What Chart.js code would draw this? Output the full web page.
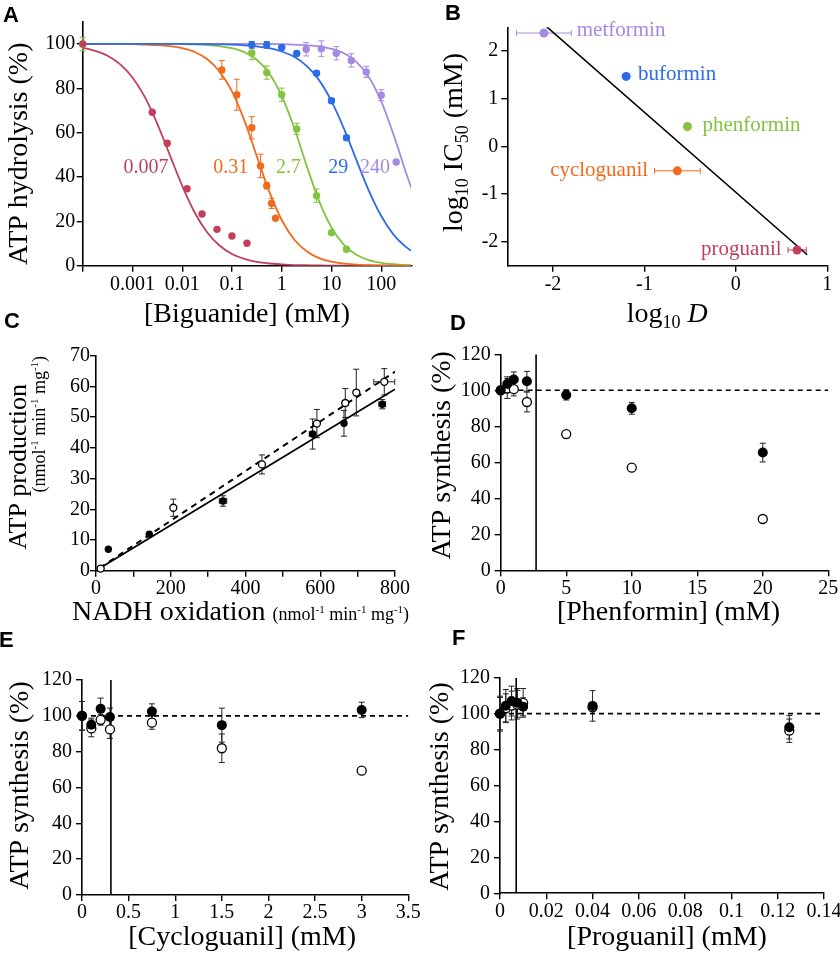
<!DOCTYPE html>
<html>
<head>
<meta charset="utf-8">
<script src="https://cdn.jsdelivr.net/npm/chart.js@4.4.1/dist/chart.umd.min.js"></script>
<style>
  body { margin: 0; background: #fff; }
  #fig { position: relative; width: 840px; height: 955px; overflow: hidden; background: #fff; }
  #fig canvas { position: absolute; }
  .tag { position: absolute; font: bold 22px 'Liberation Sans', Arial, sans-serif; line-height: 22px; color: #000; }
</style>
</head>
<body>
<div id="fig">
  <canvas id="chartA" width="420" height="330" style="left:0;top:0"></canvas>
  <canvas id="chartB" width="420" height="330" style="left:420px;top:0"></canvas>
  <canvas id="chartC" width="420" height="300" style="left:0;top:330px"></canvas>
  <canvas id="chartD" width="420" height="300" style="left:420px;top:330px"></canvas>
  <canvas id="chartE" width="420" height="305" style="left:0;top:650px"></canvas>
  <canvas id="chartF" width="420" height="305" style="left:420px;top:650px"></canvas>
  <div class="tag" style="left:3px;top:4px">A</div>
  <div class="tag" style="left:445px;top:2px">B</div>
  <div class="tag" style="left:4px;top:310px">C</div>
  <div class="tag" style="left:450px;top:312px">D</div>
  <div class="tag" style="left:-1px;top:629px">E</div>
  <div class="tag" style="left:452px;top:627px">F</div>
</div>
<script>
// Biguanide figure - six panels, one Chart.js canvas each

// ---- Panel A: ATP hydrolysis vs [biguanide] ----
const aTicks = [0.0001, 0.001, 0.01, 0.1, 1, 10, 100];
const aTickLabels = ['', '0.001', '0.01', '0.1', '1', '10', '100'];
const aYTicks = [0, 20, 40, 60, 80, 100];

const proX = [0.0001, 0.0025, 0.005, 0.0125, 0.025, 0.05, 0.1, 0.2];
const proY = [100, 69.2, 55.2, 34.7, 23.3, 16.4, 13.4, 10.1];
const cycX = [0.0625, 0.125, 0.25, 0.375, 0.5, 0.625, 0.75];
const cycY = [88.3, 77.1, 62.2, 45.0, 36.1, 28.1, 21.4];
const cycErr = [4.2, 7.0, 5.0, 5.3, 1.5, 2.3, 0];
const phenX = [0.0001, 0.25, 0.5, 1, 2, 5, 10, 20];
const phenY = [100, 95.9, 87.1, 77.1, 61.7, 31.6, 14.9, 7.4];
const phenErr = [3, 3, 3, 3, 2.5, 3, 0, 0];
const bufX = [0.25, 0.5, 1, 2, 5, 10, 20];
const bufY = [99.6, 99.6, 98.4, 95.7, 86.8, 74.4, 57.7];
const bufErr = [1.5, 1.5, 1, 1, 1, 1, 1];
const metX = [3.1, 6.25, 12.5, 25, 50, 100, 200];
const metY = [97.6, 97.9, 95.8, 92.6, 87.4, 76.9, 46.8];
const metErr = [3, 3.5, 3, 3, 2.5, 2.5, 0];

// fitted curves at quarter-decade steps
const fitX = [0.0001, 0.000178, 0.000316, 0.000562, 0.001, 0.00178, 0.00316, 0.00562, 0.01, 0.0178,
  0.0316, 0.0562, 0.1, 0.178, 0.316, 0.562, 1, 1.78, 3.16, 5.62, 10, 17.8, 31.6, 56.2, 100, 178, 316, 400];
const fitPro = [98.3, 96.9, 94.7, 90.9, 84.9, 76.0, 64.0, 50.0, 36.0, 24.0, 15.1, 9.1, 5.3, 3.1,
  1.7, 1.0, 0.6, 0.3, 0.2, 0.1, 0.06, 0, 0, 0, 0, 0, 0, 0];
const fitCyc = [100, 100, 100, 100, 99.9, 99.7, 99.5, 99.0, 98.1, 96.4, 93.2, 87.6, 78.6, 65.4,
  49.3, 33.4, 20.6, 11.8, 6.5, 3.4, 1.8, 0.9, 0.5, 0.2, 0.1, 0, 0, 0];
const fitPhen = [100, 100, 100, 100, 100, 100, 100, 99.9, 99.9, 99.8, 99.5, 99.0, 98.1, 96.3,
  92.9, 86.7, 76.6, 62.2, 45.2, 29.2, 17.2, 9.4, 4.9, 2.5, 1.3, 0.65, 0.3, 0.25];
const fitBuf = [100, 100, 100, 100, 100, 100, 100, 100, 100, 99.9, 99.9, 99.8, 99.7, 99.4,
  98.9, 98.1, 96.6, 94.2, 90.1, 83.7, 74.2, 61.8, 47.7, 33.9, 22.4, 13.9, 8.4, 6.8];
const fitMet = [100, 100, 100, 100, 100, 100, 100, 100, 100, 100, 100, 100, 100, 100,
  100, 100, 99.9, 99.7, 99.4, 98.9, 97.8, 95.8, 91.9, 85.1, 74.1, 58.9, 41.8, 35.2];

const ic50Labels = ['0.007', '0.31', '2.7', '29', '240'];
const ic50LabelX = [0.00066, 0.042, 0.77, 8.65, 37.5];
const ic50LabelY = 41.8;

// ---- Panel B: log IC50 vs log D ----
const bNames = ['metformin', 'buformin', 'phenformin', 'cycloguanil', 'proguanil'];
const bLogD = [-2.1, -1.2, -0.53, -0.64, 0.67];
const bLogIC50 = [2.38, 1.47, 0.42, -0.51, -2.17];
const bErrD = [0.3, 0, 0, 0.25, 0.1];
const bLabelX = [-1.74, -1.07, -0.365, -0.96, 0.5];
const bLabelY = [2.31, 1.39, 0.33, -0.61, -2.27];
const bLabelAlign = ['left', 'left', 'left', 'right', 'right'];
const bFitX = [-2.11, 0.78];
const bFitY = [2.58, -2.27];
const bXTicks = [-2, -1, 0, 1];
const bYTicks = [-2, -1, 0, 1, 2];

// ---- Panel C: ATP production vs NADH oxidation ----
const cFilledX = [33, 142.6, 339.8, 579.6, 663.5, 766];
const cFilledY = [7.0, 11.9, 22.7, 44.5, 48.0, 54.2];
const cFilledErrY = [0, 0, 1.7, 4.9, 4.2, 1.5];
const cFilledErrX = [0, 0, 10, 9, 0, 9];
const cOpenX = [12.5, 206.9, 444, 591, 667, 696.4, 771.3];
const cOpenY = [0.7, 20.5, 34.6, 47.9, 54.6, 58.0, 61.5];
const cOpenErrY = [0, 2.8, 3.1, 4.6, 4.7, 7.6, 4.3];
const cOpenErrX = [0, 0, 0, 0, 8, 0, 28];
const cSolidX = [10, 800], cSolidY = [0.8, 59.1];
const cDashX = [10, 800], cDashY = [0.9, 64.8];
const cXTicks = [0, 100, 200, 300, 400, 500, 600, 700, 800];
const cXLabels = ['0', '', '200', '', '400', '', '600', '', '800'];
const cYTicks = [0, 10, 20, 30, 40, 50, 60, 70];

// ---- Panels D-F: ATP synthesis ----
const synYTicks = [0, 20, 40, 60, 80, 100, 120];
const control = 100;

const dX = [0, 0.5, 1, 2, 5, 10, 20];
const dFilledY = [100, 103.5, 106, 105, 97.4, 90, 65.4];
const dFilledErr = [0, 4, 4.2, 5.5, 2.8, 3.3, 5.2];
const dOpenY = [100, 101, 100.6, 93.5, 75.7, 57, 28.5];
const dOpenErr = [0, 5.5, 3.7, 5.5, 0, 0, 0];
const dIC50 = 2.7;
const dXTicks = [0, 5, 10, 15, 20, 25];

const eX = [0, 0.1, 0.2, 0.3, 0.75, 1.5, 3];
const eFilledY = [100, 95, 103.9, 99.3, 102.4, 94.8, 103.3];
const eFilledErr = [8, 3.7, 6, 5, 4.3, 9.5, 4.3];
const eOpenY = [100, 93, 97.8, 92.4, 96.2, 81.9, 69.4];
const eOpenErr = [8, 4.7, 3, 5, 3.7, 8, 0];
const eIC50 = 0.31;
const eXTicks = [0, 0.5, 1, 1.5, 2, 2.5, 3, 3.5];
const eXLabels = ['0', '0.5', '1', '1.5', '2', '2.5', '3', '3.5'];

const fX = [0, 0.0025, 0.005, 0.0075, 0.01, 0.04, 0.125];
const fFilledY = [100, 104.4, 107, 106, 103.8, 104.3, 92.4];
const fFilledErr = [9.7, 9, 8.3, 8, 5, 8.5, 6.5];
const fOpenY = [100, 103, 104.5, 105, 106, 103.5, 90.5];
const fOpenErr = [9, 8, 8, 8, 8, 0, 6.5];
const fIC50 = 0.007;
const fXTicks = [0, 0.02, 0.04, 0.06, 0.08, 0.1, 0.12, 0.14];
const fXLabels = ['0', '0.02', '0.04', '0.06', '0.08', '0.1', '0.12', '0.14'];

// colours
const RED = '#c23f5b', ORANGE = '#f26a1b', GREEN = '#84c33f', BLUE = '#2d6be9', PURPLE = '#a48ae3';
const bColors = [PURPLE, BLUE, GREEN, ORANGE, RED];

const serif = "'Liberation Serif', 'Times New Roman', serif";
Chart.defaults.font.family = serif;
Chart.defaults.color = '#000';

// ---------- plugins ----------
const errorBars = {
  id: 'errorBars',
  beforeDatasetsDraw(chart) {
    const ctx = chart.ctx;
    const xs = chart.scales.x, ys = chart.scales.y;
    chart.data.datasets.forEach(ds => {
      if (!ds.errY && !ds.errX) return;
      ctx.save();
      ctx.strokeStyle = ds.barColor || '#000';
      ctx.lineWidth = 1;
      ds.data.forEach((p, j) => {
        const px = xs.getPixelForValue(p.x), py = ys.getPixelForValue(p.y);
        const ey = ds.errY ? ds.errY[j] : 0;
        const ex = ds.errX ? ds.errX[j] : 0;
        ctx.beginPath();
        if (ey) {
          const t = ys.getPixelForValue(p.y + ey), b = ys.getPixelForValue(p.y - ey);
          ctx.moveTo(px, t); ctx.lineTo(px, b);
          ctx.moveTo(px - 3, t); ctx.lineTo(px + 3, t);
          ctx.moveTo(px - 3, b); ctx.lineTo(px + 3, b);
        }
        if (ex) {
          const l = xs.getPixelForValue(p.x - ex), r = xs.getPixelForValue(p.x + ex);
          ctx.moveTo(l, py); ctx.lineTo(r, py);
          ctx.moveTo(l, py - 3); ctx.lineTo(l, py + 3);
          ctx.moveTo(r, py - 3); ctx.lineTo(r, py + 3);
        }
        ctx.stroke();
      });
      ctx.restore();
    });
  }
};

// axis titles with sub/superscripts and mixed sizes
const richTitles = {
  id: 'richTitles',
  afterDraw(chart, args, opts) {
    const ctx = chart.ctx, area = chart.chartArea;
    (opts.items || []).forEach(item => {
      ctx.save();
      let total = 0;
      item.parts.forEach(p => {
        ctx.font = (p.style || '') + ' ' + p.size + 'px ' + serif;
        p.w = ctx.measureText(p.t).width;
        total += p.w;
      });
      if (item.axis === 'x') {
        ctx.translate((area.left + area.right) / 2 + (item.shift || 0), area.bottom + item.offset);
      } else {
        ctx.translate(area.left - item.offset, (area.top + area.bottom) / 2 + (item.shift || 0));
        ctx.rotate(-Math.PI / 2);
      }
      ctx.fillStyle = '#000';
      ctx.textBaseline = 'alphabetic';
      ctx.textAlign = 'left';
      let x = -total / 2;
      item.parts.forEach(p => {
        ctx.font = (p.style || '') + ' ' + p.size + 'px ' + serif;
        ctx.fillText(p.t, x, p.dy || 0);
        x += p.w;
      });
      ctx.restore();
    });
  }
};

// coloured text placed in data coordinates
const noteText = {
  id: 'noteText',
  afterDatasetsDraw(chart, args, opts) {
    const ctx = chart.ctx;
    (opts.items || []).forEach(n => {
      ctx.save();
      ctx.font = n.size + 'px ' + serif;
      ctx.fillStyle = n.color;
      ctx.textAlign = n.align || 'left';
      ctx.textBaseline = 'alphabetic';
      ctx.fillText(n.text, chart.scales.x.getPixelForValue(n.x), chart.scales.y.getPixelForValue(n.y));
      ctx.restore();
    });
  }
};

// ---------- helpers ----------
function pts(xs, ys) {
  return xs.map((x, i) => ({ x: x, y: Array.isArray(ys) ? ys[i] : ys }));
}

function dots(xs, ys, o) {
  return {
    data: pts(xs, ys), showLine: false, clip: false,
    pointRadius: o.r, pointHoverRadius: o.r,
    pointBackgroundColor: o.fill, pointBorderColor: o.stroke || o.fill,
    pointBorderWidth: o.bw || 0,
    barColor: o.bar || o.stroke || o.fill,
    errY: o.errY, errX: o.errX
  };
}

function curve(xs, ys, color, w, dash, smooth) {
  return {
    data: pts(xs, ys), showLine: true, pointRadius: 0, pointHoverRadius: 0,
    borderColor: color, borderWidth: w, borderDash: dash || [],
    cubicInterpolationMode: smooth ? 'monotone' : 'default', fill: false
  };
}

function axis(o) {
  const horiz = o.pos === 'x';
  return {
    type: o.type || 'linear',
    min: o.min, max: o.max,
    border: { color: '#000', width: 1.6 },
    grid: { drawOnChartArea: false, drawTicks: true, tickLength: 6, color: '#000', lineWidth: 1.4 },
    ticks: {
      font: { family: serif, size: 20 }, color: '#000', padding: o.pad,
      autoSkip: false, maxRotation: 0, minRotation: 0,
      callback: (v, i) => (o.labels ? o.labels[i] : String(o.values[i]))
    },
    afterBuildTicks: s => { s.ticks = o.values.map(v => ({ value: v })); },
    afterFit: s => {
      if (horiz) { s.height = o.size; s.paddingLeft = 0; s.paddingRight = 0; }
      else { s.width = o.size; s.paddingTop = 0; s.paddingBottom = 0; }
    }
  };
}

function makeChart(id, cfg) {
  return new Chart(document.getElementById(id), {
    type: 'scatter',
    data: { datasets: cfg.datasets },
    options: {
      responsive: false, animation: false, devicePixelRatio: 1,
      layout: { padding: cfg.padding },
      plugins: {
        legend: { display: false }, tooltip: { enabled: false },
        richTitles: { items: cfg.titles }, noteText: { items: cfg.notes || [] }
      },
      scales: { x: cfg.x, y: cfg.y }
    },
    plugins: [errorBars, richTitles, noteText]
  });
}

const big = 28, small = 18, tiny = 11;
function simpleTitle(axisName, text, offset, shift, size) {
  return { axis: axisName, offset: offset, shift: shift, parts: [{ t: text, size: size || big }] };
}
const unitParts = [
  { t: '(nmol', size: small }, { t: '-1', size: tiny, dy: -7 },
  { t: ' min', size: small }, { t: '-1', size: tiny, dy: -7 },
  { t: ' mg', size: small }, { t: '-1', size: tiny, dy: -7 },
  { t: ')', size: small }
];

// ---------- Panel A ----------
makeChart('chartA', {
  padding: { left: 0, right: 8.8, top: 21.8, bottom: 0 },
  datasets: [
    dots(proX, proY, { r: 3.7, fill: RED }),
    dots(cycX, cycY, { r: 3.7, fill: ORANGE, errY: cycErr }),
    dots(phenX, phenY, { r: 3.7, fill: GREEN, errY: phenErr }),
    dots(bufX, bufY, { r: 3.7, fill: BLUE, errY: bufErr }),
    dots(metX, metY, { r: 3.7, fill: PURPLE, errY: metErr }),
    curve(fitX, fitBuf, BLUE, 1.8, null, true),
    curve(fitX, fitCyc, ORANGE, 1.8, null, true),
    curve(fitX, fitPhen, GREEN, 1.8, null, true),
    curve(fitX, fitMet, PURPLE, 1.8, null, true),
    curve(fitX, fitPro, RED, 1.8, null, true)
  ],
  x: axis({ pos: 'x', type: 'logarithmic', min: 0.0001, max: 400, values: aTicks, labels: aTickLabels, size: 64.3, pad: 1 }),
  y: axis({ pos: 'y', min: 0, max: 110, values: aYTicks, size: 82.7, pad: 1.5 }),
  titles: [
    simpleTitle('x', '[Biguanide] (mM)', 56, 0),
    simpleTitle('y', 'ATP hydrolysis (%)', 55.7, 10)
  ],
  notes: ic50Labels.map((t, i) => ({ text: t, x: ic50LabelX[i], y: ic50LabelY, size: 20,
    color: [RED, ORANGE, GREEN, BLUE, PURPLE][i] }))
});

// ---------- Panel B ----------
makeChart('chartB', {
  padding: { left: 17, right: 12.7, top: 27.3, bottom: 0 },
  datasets: bNames.map((n, i) => dots([bLogD[i]], [bLogIC50[i]],
    { r: 4.5, fill: bColors[i], errX: [bErrD[i]] })).concat([
    curve(bFitX, bFitY, '#000', 1.6)
  ]),
  x: axis({ pos: 'x', min: -2.5, max: 1, values: bXTicks, labels: bXTicks.map(String), size: 64.3, pad: 1 }),
  y: axis({ pos: 'y', min: -2.5, max: 2.5, values: bYTicks, labels: bYTicks.map(String), size: 70.3, pad: 3 }),
  titles: [
    { axis: 'x', offset: 56, shift: 0, parts: [
      { t: 'log', size: big }, { t: '10', size: small, dy: 6 }, { t: ' ', size: big },
      { t: 'D', size: big, style: 'italic' }] },
    { axis: 'y', offset: 45.6, shift: -4, parts: [
      { t: 'log', size: big }, { t: '10', size: small, dy: 6 }, { t: ' IC', size: big },
      { t: '50', size: small, dy: 6 }, { t: ' (mM)', size: big }] }
  ],
  notes: bNames.map((n, i) => ({ text: n, x: bLabelX[i], y: bLabelY[i], size: 21,
    color: bColors[i], align: bLabelAlign[i] }))
});

// ---------- Panel C ----------
makeChart('chartC', {
  padding: { left: 0, right: 25, top: 25.7, bottom: 0 },
  datasets: [
    dots(cFilledX, cFilledY, { r: 3.7, fill: '#000', errY: cFilledErrY, errX: cFilledErrX, bar: '#222' }),
    dots(cOpenX, cOpenY, { r: 3.5, fill: '#fff', stroke: '#000', bw: 1.3, errY: cOpenErrY, errX: cOpenErrX, bar: '#222' }),
    curve(cSolidX, cSolidY, '#000', 1.8),
    curve(cDashX, cDashY, '#000', 2, [6, 5])
  ],
  x: axis({ pos: 'x', min: 0, max: 800, values: cXTicks, labels: cXLabels, size: 59.3, pad: 0 }),
  y: axis({ pos: 'y', min: 0, max: 70, values: cYTicks, size: 96, pad: 0 }),
  titles: [
    { axis: 'x', offset: 49.3, shift: -5, parts: [{ t: 'NADH oxidation ', size: big }].concat(unitParts) },
    simpleTitle('y', 'ATP production', 70, 3.5, 26),
    { axis: 'y', offset: 51, shift: -39, parts: unitParts }
  ]
});

// ---------- Panels D, E, F ----------
function synthesisPanel(id, o) {
  makeChart(id, {
    padding: o.padding,
    datasets: [
      dots(o.xs, o.filled, { r: 5, fill: '#000', errY: o.filledErr, bar: '#222' }),
      dots(o.xs, o.open, { r: 4.5, fill: '#fff', stroke: '#000', bw: 1.3, errY: o.openErr, bar: '#222' }),
      curve([o.ic50, o.ic50], [0, 120], '#000', 1.6),
      curve([0, o.xmax], [control, control], '#000', 1.6, [5, 4])
    ],
    x: axis({ pos: 'x', min: 0, max: o.xmax, values: o.xticks, labels: o.xlabels || o.xticks.map(String), size: o.xsize, pad: 0 }),
    y: axis({ pos: 'y', min: 0, max: 120, values: synYTicks, size: o.ysize, pad: 4 }),
    titles: [
      simpleTitle('x', o.xtitle, o.xoff, o.xshift),
      simpleTitle('y', 'ATP synthesis (%)', o.yoff, o.yshift)
    ]
  });
}

synthesisPanel('chartD', {
  padding: { left: 0, right: 11.7, top: 24.3, bottom: 0 },
  xs: dX, filled: dFilledY, filledErr: dFilledErr, open: dOpenY, openErr: dOpenErr,
  ic50: dIC50, xmax: 25, xticks: dXTicks, xsize: 59.7, ysize: 80.7,
  xtitle: '[Phenformin] (mM)', xoff: 49.7, xshift: 4, yoff: 50.7, yshift: -7
});

synthesisPanel('chartE', {
  padding: { left: 0, right: 11.7, top: 30, bottom: 0 },
  xs: eX, filled: eFilledY, filledErr: eFilledErr, open: eOpenY, openErr: eOpenErr,
  ic50: eIC50, xmax: 3.5, xticks: eXTicks, xlabels: eXLabels, xsize: 60, ysize: 82,
  xtitle: '[Cycloguanil] (mM)', xoff: 50, xshift: -3, yoff: 53.7, yshift: -2
});

synthesisPanel('chartF', {
  padding: { left: 0, right: 16, top: 27.7, bottom: 0 },
  xs: fX, filled: fFilledY, filledErr: fFilledErr, open: fOpenY, openErr: fOpenErr,
  ic50: fIC50, xmax: 0.14, xticks: fXTicks, xlabels: fXLabels, xsize: 61.7, ysize: 80,
  xtitle: '[Proguanil] (mM)', xoff: 51.7, xshift: 5, yoff: 52, yshift: 1
});
</script>
</body>
</html>
